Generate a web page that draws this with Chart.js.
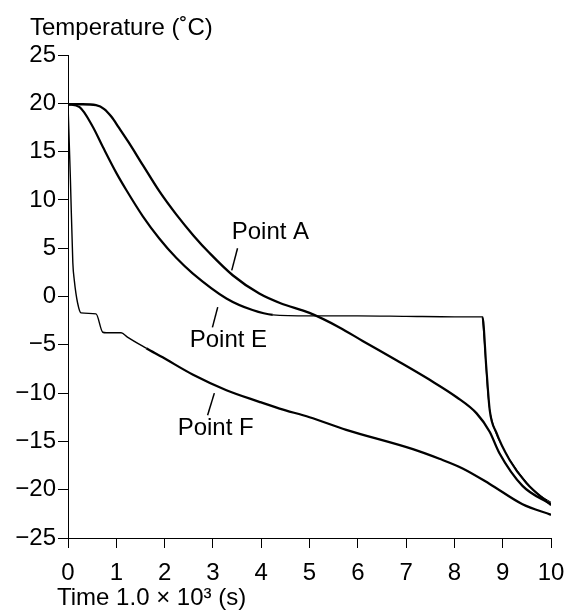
<!DOCTYPE html>
<html>
<head>
<meta charset="utf-8">
<script src="https://cdn.jsdelivr.net/npm/chart.js@4.4.1/dist/chart.umd.min.js"></script>
<style>
  html, body { margin: 0; padding: 0; background: #fff; }
  canvas { display: block; }
</style>
</head>
<body>
<canvas id="chart" width="565" height="613"></canvas>
<script>
// data (time in 10^3 s, temperature in deg C)
const timeA = [0, 0.3, 0.58, 0.75, 0.9, 1.05, 1.25, 1.55, 1.89, 2.24, 2.6, 2.93, 3.41, 3.96, 4.4, 5.0, 5.62, 6.1, 6.8, 7.48, 8.04, 8.46, 8.73, 8.93, 9.41, 10];
const tempA = [19.9, 19.9, 19.8, 19.4, 18.6, 17.5, 16.0, 13.6, 10.9, 8.5, 6.3, 4.5, 2.2, 0.3, -0.7, -1.7, -3.2, -4.6, -6.6, -8.6, -10.4, -12.1, -14.0, -16.2, -19.6, -21.5];

const timeE = [0, 0.24, 0.51, 0.72, 1.0, 1.21, 1.55, 1.89, 2.24, 2.58, 3.28, 3.82, 4.24, 5.0, 6.0, 7.0, 8.0, 8.58, 8.66, 8.73, 8.87, 9.14, 9.49, 10];
const tempE = [19.9, 19.6, 17.6, 15.5, 12.8, 11.0, 8.3, 6.0, 4.0, 2.4, -0.2, -1.4, -1.9, -2.0, -2.0, -2.05, -2.1, -2.1, -7.3, -11.7, -14.1, -16.9, -19.3, -21.6];

// second, thinner trace of point E after the plateau (the bundle near 9-10)
const timeE2 = [8.58, 8.63, 8.7, 8.8, 9.0, 9.3, 9.7, 10];
const tempE2 = [-2.1, -5.5, -10.5, -13.2, -15.6, -18.0, -20.3, -21.3];

const timeF = [0, 0.05, 0.1, 0.13, 0.2, 0.27, 0.58, 0.72, 0.79, 1.1, 1.23, 1.62, 1.96, 2.59, 3.28, 3.96, 4.38, 5.0, 5.76, 7.14, 7.69, 8.17, 8.73, 9.41, 10];
const tempF = [19.9, 12.1, 3.5, 1.7, -0.7, -1.7, -1.8, -3.7, -3.75, -3.75, -4.2, -5.35, -6.3, -8.1, -9.7, -10.9, -11.6, -12.5, -13.8, -15.8, -16.8, -17.8, -19.4, -21.5, -22.6];

const xTicks = [0, 1, 2, 3, 4, 5, 6, 7, 8, 9, 10];
const yTicks = [-25, -20, -15, -10, -5, 0, 5, 10, 15, 20, 25];

// callout labels: text position and leader line, in data units
const labels = [
  { text: "Point A", x: 3.39, y: 6.6, from: [3.51, 5.0], to: [3.39, 2.7] },
  { text: "Point E", x: 2.52, y: -4.5, from: [3.1, -1.1], to: [2.99, -3.2] },
  { text: "Point F", x: 2.27, y: -13.7, from: [3.03, -10.0], to: [2.89, -12.3] }
];

const FONT = "Liberation Sans, Arial, Helvetica, sans-serif";
const SIZE = 24;

const pts = (xs, ys) => xs.map((x, i) => ({ x: x, y: ys[i] }));
const minus = (v) => (v < 0 ? "\u2212" + Math.abs(v) : String(v));

const textPlugin = {
  id: "texts",
  afterDraw(chart) {
    const ctx = chart.ctx;
    const sx = chart.scales.x, sy = chart.scales.y;
    ctx.save();
    ctx.fillStyle = "#000";
    ctx.strokeStyle = "#000";
    ctx.font = SIZE + "px " + FONT;
    ctx.textBaseline = "alphabetic";
    ctx.textAlign = "left";
    ctx.fillText("Temperature (\u02DAC)", 30, 35);
    ctx.fillText("Time 1.0 \u00D7 10\u00B3 (s)", 57, 605);

    ctx.textBaseline = "middle";
    ctx.lineWidth = 1.5;
    labels.forEach((l) => {
      ctx.fillText(l.text, sx.getPixelForValue(l.x), sy.getPixelForValue(l.y));
      ctx.beginPath();
      ctx.moveTo(sx.getPixelForValue(l.from[0]), sy.getPixelForValue(l.from[1]));
      ctx.lineTo(sx.getPixelForValue(l.to[0]), sy.getPixelForValue(l.to[1]));
      ctx.stroke();
    });
    ctx.restore();
  }
};

const lineStyle = (w) => ({
  borderColor: "#000",
  borderWidth: w,
  pointRadius: 0,
  fill: false,
  cubicInterpolationMode: "monotone"
});

new Chart(document.getElementById("chart").getContext("2d"), {
  type: "line",
  data: {
    datasets: [
      Object.assign({ label: "Point A", data: pts(timeA, tempA) }, lineStyle(2.3)),
      Object.assign({
        label: "Point E",
        data: pts(timeE, tempE),
        // the plateau part is a thin trace in the reference
        segment: { borderWidth: (c) => (c.p0.parsed.x >= 4.2 && c.p1.parsed.x <= 8.6 ? 1.3 : 2.2) }
      }, lineStyle(2.2)),
      Object.assign({ label: "Point E (2)", data: pts(timeE2, tempE2) }, lineStyle(1)),
      Object.assign({
        label: "Point F",
        data: pts(timeF, tempF),
        segment: { borderWidth: (c) => (c.p0.parsed.x < 1.6 ? 1.4 : 2.3) }
      }, lineStyle(2.3))
    ]
  },
  options: {
    responsive: false,
    animation: false,
    devicePixelRatio: 1,
    layout: { padding: { top: 55, right: 0, left: 0, bottom: 0 } },
    plugins: { legend: { display: false }, tooltip: { enabled: false } },
    scales: {
      x: {
        type: "linear",
        min: 0,
        max: 10,
        afterFit: (s) => { s.height = 75; s.paddingRight = 14; },
        afterBuildTicks: (s) => { s.ticks = xTicks.map((v) => ({ value: v })); },
        grid: { drawOnChartArea: false, drawTicks: true, tickLength: 10, color: "#000", lineWidth: 1 },
        border: { display: true, color: "#000", width: 1 },
        ticks: { color: "#000", font: { family: FONT, size: SIZE }, padding: 11, maxRotation: 0 }
      },
      y: {
        type: "linear",
        min: -25,
        max: 25,
        afterFit: (s) => { s.width = 68; },
        afterBuildTicks: (s) => { s.ticks = yTicks.map((v) => ({ value: v })); },
        grid: { drawOnChartArea: false, drawTicks: true, tickLength: 10, color: "#000", lineWidth: 1 },
        border: { display: true, color: "#000", width: 1 },
        ticks: { color: "#000", font: { family: FONT, size: SIZE }, padding: 2, callback: (v) => minus(v) }
      }
    }
  },
  plugins: [textPlugin]
});
</script>
</body>
</html>
